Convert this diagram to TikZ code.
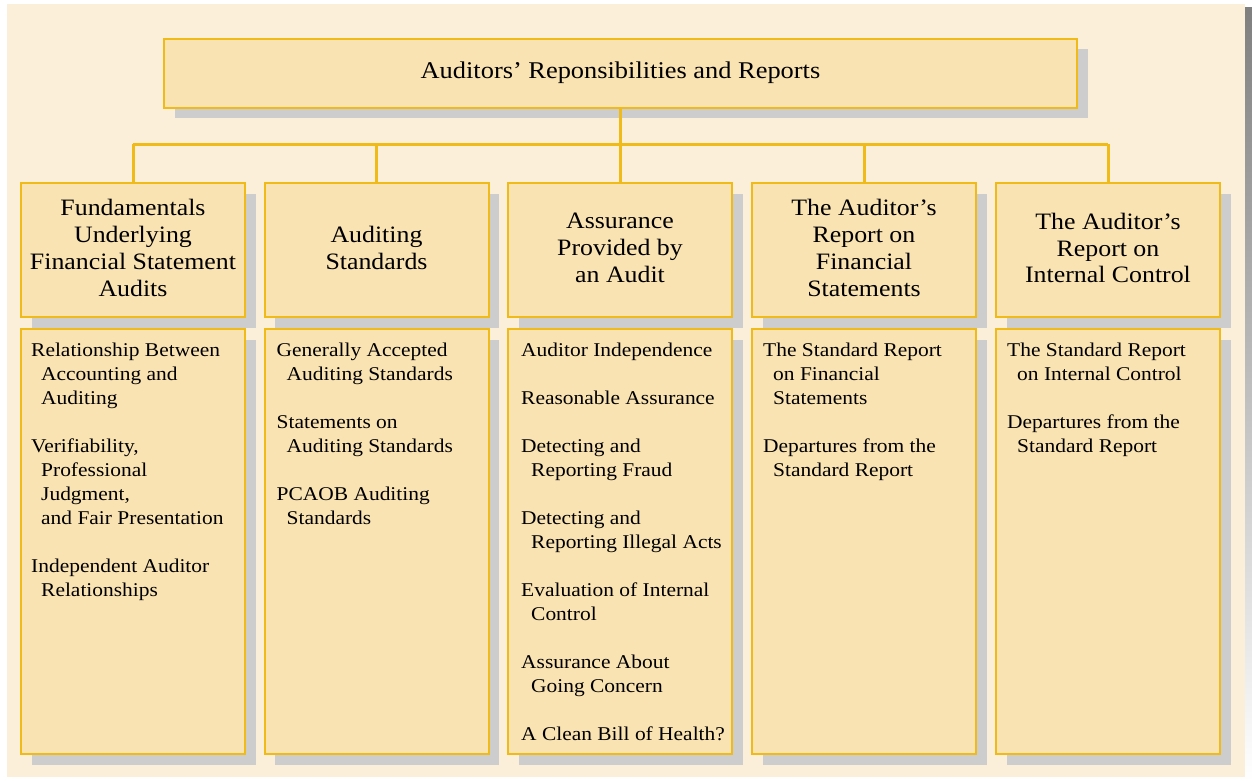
\documentclass[tikz,border=0pt]{standalone}
\usepackage{fontspec}
\setmainfont[FakeStretch=1.1]{Liberation Serif}
\usetikzlibrary{shadows,calc}
\definecolor{bgc}{RGB}{251,239,217}
\definecolor{boxfill}{RGB}{250,227,178}
\definecolor{gold}{RGB}{240,186,24}
\definecolor{shade}{RGB}{205,205,205}
\newcommand\myind{\hspace*{10pt}}
\tikzset{
  panel/.style={fill=bgc, draw=none},
  boxbase/.style={draw=gold, line width=2pt, fill=boxfill, inner sep=0pt, anchor=north west,
    drop shadow={shadow xshift=10.5pt, shadow yshift=-10.5pt, fill=shade, opacity=1}},
  headbox/.style={boxbase, minimum width=224pt, minimum height=134pt},
  bodybox/.style={boxbase, minimum width=224pt, minimum height=425pt},
  titlebox/.style={boxbase, minimum width=913pt, minimum height=69pt},
  headtext/.style={align=center, inner sep=0pt, font=\fontsize{23.5}{26.7}\selectfont},
  titletext/.style={inner sep=0pt, font=\fontsize{24}{28}\selectfont},
  bodytext/.style={align=left, inner sep=0pt, anchor=north west, font=\fontsize{19.5}{24}\selectfont},
  conn/.style={draw=gold, line width=3pt},
}
\begin{document}
\begin{tikzpicture}[x=1pt,y=-1pt]
\useasboundingbox (0,0) rectangle (1252,781);
\fill[white] (0,0) rectangle (1252,781);
\fill[shade] (11,8) rectangle (1252,781);
\fill[bgc] (7,4) rectangle (1245,777);

\node[titlebox] (top) at (163,38) {};
\node[titletext] (toptext) at ($(top.center)+(0,-1)$) {Auditors’ Reponsibilities and Reports};

% headers
\node[headbox] (h1) at (20,182) {};
\node[headbox] (h2) at (263.5,182) {};
\node[headbox] (h3) at (507,182) {};
\node[headbox] (h4) at (751,182) {};
\node[headbox] (h5) at (995,182) {};

\node[headtext] (ht1) at ($(h1.center)+(0,-2)$) {Fundamentals\\Underlying\\Financial Statement\\Audits};
\node[headtext] (ht2) at ($(h2.center)+(0,-2)$) {Auditing\\Standards};
\node[headtext] (ht3) at ($(h3.center)+(0,-2)$) {Assurance\\Provided by\\an Audit};
\node[headtext] (ht4) at ($(h4.center)+(0,-2)$) {The Auditor’s\\Report on\\Financial\\Statements};
\node[headtext] (ht5) at ($(h5.center)+(0,-2)$) {The Auditor’s\\Report on\\Internal Control};

% bodies
\node[bodybox] (b1) at (20,328) {};
\node[bodybox] (b2) at (263.5,328) {};
\node[bodybox] (b3) at (507,328) {};
\node[bodybox] (b4) at (751,328) {};
\node[bodybox] (b5) at (995,328) {};

\node[bodytext] (bt1) at ($(b1.north west)+(11,11.2)$) {\strut Relationship Between\\\myind Accounting and\\\myind Auditing\\[24pt]Verifiability,\\\myind Professional\\\myind Judgment,\\\myind and Fair Presentation\\[24pt]Independent Auditor\\\myind Relationships};
\node[bodytext] (bt2) at ($(b2.north west)+(13,11.2)$) {\strut Generally Accepted\\\myind Auditing Standards\\[24pt]Statements on\\\myind Auditing Standards\\[24pt]PCAOB Auditing\\\myind Standards};
\node[bodytext] (bt3) at ($(b3.north west)+(14,11.2)$) {\strut Auditor Independence\\[24pt]Reasonable Assurance\\[24pt]Detecting and\\\myind Reporting Fraud\\[24pt]Detecting and\\\myind Reporting Illegal Acts\\[24pt]Evaluation of Internal\\\myind Control\\[24pt]Assurance About\\\myind Going Concern\\[24pt]A Clean Bill of Health?};
\node[bodytext] (bt4) at ($(b4.north west)+(12,11.2)$) {\strut The Standard Report\\\myind on Financial\\\myind Statements\\[24pt]Departures from the\\\myind Standard Report};
\node[bodytext] (bt5) at ($(b5.north west)+(12,11.2)$) {\strut The Standard Report\\\myind on Internal Control\\[24pt]Departures from the\\\myind Standard Report};

% connectors
\coordinate (bus) at (620,144);
\draw[conn] (top.south) -- (top.south |- bus);
\draw[conn] (h1.north |- bus) -- (h5.north |- bus);
\draw[conn] (h1.north |- bus) -- (h1.north);
\draw[conn] (h2.north |- bus) -- (h2.north);
\draw[conn] (h3.north |- bus) -- (h3.north);
\draw[conn] (h4.north |- bus) -- (h4.north);
\draw[conn] (h5.north |- bus) -- (h5.north);
\end{tikzpicture}
\end{document}
